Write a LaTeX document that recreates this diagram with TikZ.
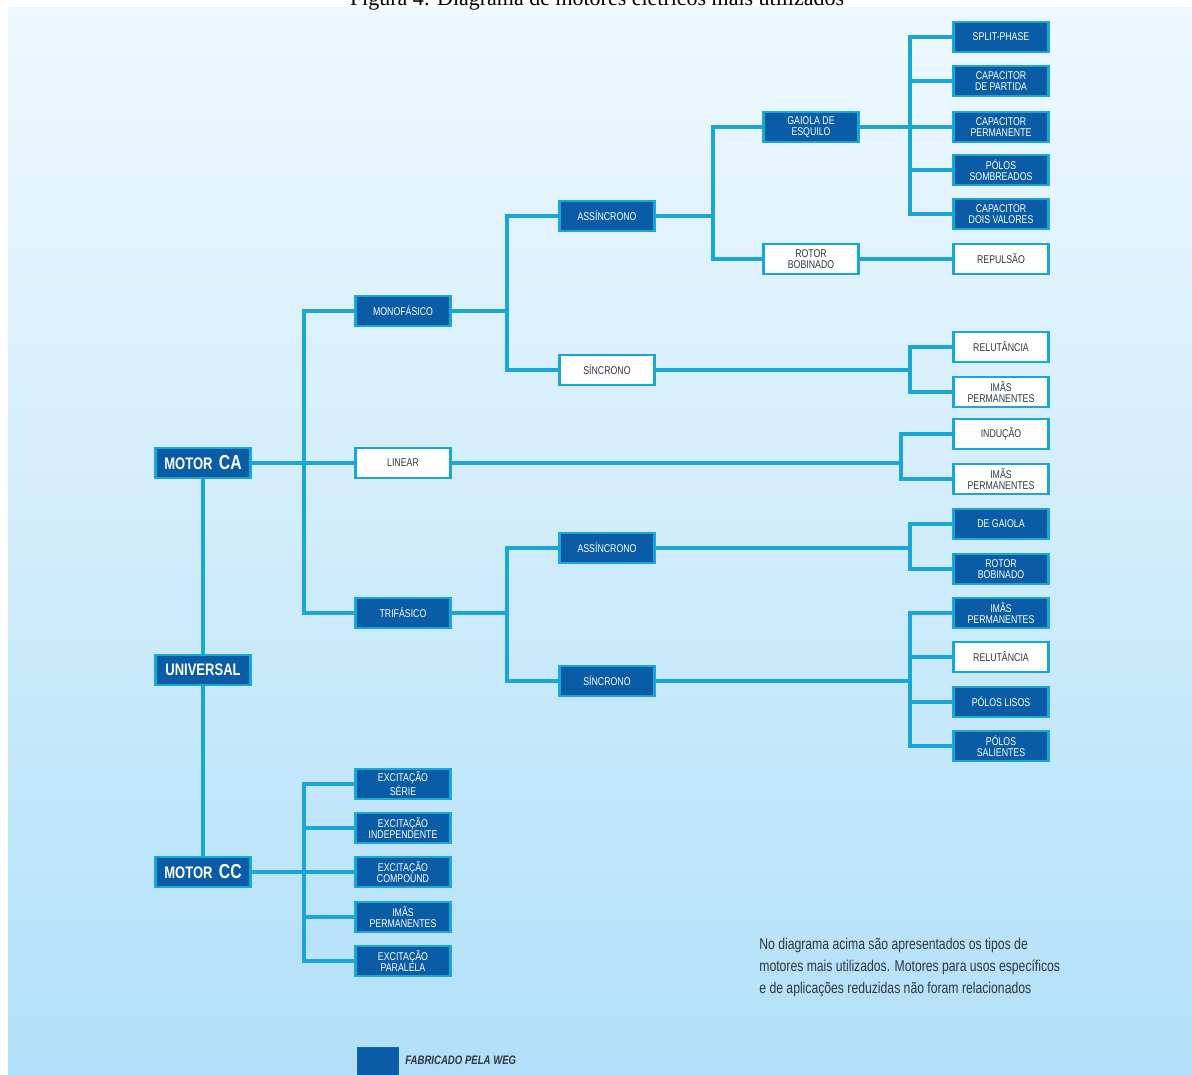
\documentclass[tikz,border=0pt]{standalone}
\usepackage{fontspec}
\setmainfont{Liberation Serif}
\newfontfamily\boxfont[FakeStretch=0.78]{Liberation Sans}
\usetikzlibrary{calc}
\definecolor{weg}{HTML}{0B5CA6}
\definecolor{wegline}{HTML}{1AA7D8}
\definecolor{bgtop}{HTML}{EEF8FE}
\definecolor{bgbot}{HTML}{B2E0F8}
\definecolor{notegray}{HTML}{30373E}

\begin{document}
\begin{tikzpicture}[x=0.02cm, y=-0.02cm,
  box/.style={draw=wegline, line width=1.5pt, minimum width=1.9cm, minimum height=0.6cm,
    inner sep=0pt, align=center, font=\boxfont\fontsize{6.4}{6.6}\selectfont},
  darkbox/.style={box, fill=weg, text=white},
  lightbox/.style={box, fill=white, text=notegray},
  rootbox/.style={darkbox, font=\boxfont\bfseries\fontsize{9.5}{10}\selectfont},
  link/.style={wegline, line width=1.8pt}]
\useasboundingbox (0,0) rectangle (1192,1074);
\shade[top color=bgtop, bottom color=bgbot] (8,8) rectangle (1192,1074);
\node [anchor=base, font=\fontsize{12.5}{13}\selectfont] (caption) at (597,6) {Figura 4: Diagrama de motores elétricos mais utilizados};

% level 0
\node [rootbox] (ca) at (203,463) {MOTOR\, {\fontsize{11.5}{12}\selectfont CA}};
\node [rootbox] (cc) at (203,872) {MOTOR\, {\fontsize{11.5}{12}\selectfont CC}};
\draw [link] (ca) -- (cc);
\node [rootbox] (univ) at (203,670) {UNIVERSAL};

% level 1
\node [darkbox] (mono) at (403,311) {MONOFÁSICO};
\node [lightbox] (linear) at (403,463) {LINEAR};
\node [darkbox] (tri) at (403,613) {TRIFÁSICO};
\node [darkbox] (serie) at (403,784) {EXCITAÇÃO\\SÉRIE};
\node [darkbox] (indep) at (403,828) {EXCITAÇÃO\\INDEPENDENTE};
\node [darkbox] (compound) at (403,872) {EXCITAÇÃO\\COMPOUND};
\node [darkbox] (imacc) at (403,917) {IMÃS\\PERMANENTES};
\node [darkbox] (paralela) at (403,961) {EXCITAÇÃO\\PARALELA};

% level 2
\node [darkbox] (assmono) at (607,216) {ASSÍNCRONO};
\node [lightbox] (sinmono) at (607,370) {SÍNCRONO};
\node [darkbox] (asstri) at (607,548) {ASSÍNCRONO};
\node [darkbox] (sintri) at (607,681) {SÍNCRONO};

% level 3
\node [darkbox] (gaiola) at (811,127) {GAIOLA DE\\ESQUILO};
\node [lightbox] (rotor) at (811,259) {ROTOR\\BOBINADO};

% level 4
\node [darkbox] (split) at (1001,37) {SPLIT-PHASE};
\node [darkbox] (partida) at (1001,81) {CAPACITOR\\DE PARTIDA};
\node [darkbox] (perm) at (1001,127) {CAPACITOR\\PERMANENTE};
\node [darkbox] (sombr) at (1001,170) {PÓLOS\\SOMBREADOS};
\node [darkbox] (dois) at (1001,214) {CAPACITOR\\DOIS VALORES};
\node [lightbox] (repulsao) at (1001,259) {REPULSÃO};
\node [lightbox] (relmono) at (1001,347) {RELUTÂNCIA};
\node [lightbox] (imamono) at (1001,392) {IMÃS\\PERMANENTES};
\node [lightbox] (inducao) at (1001,434) {INDUÇÃO};
\node [lightbox] (imalin) at (1001,479) {IMÃS\\PERMANENTES};
\node [darkbox] (degaiola) at (1001,524) {DE GAIOLA};
\node [darkbox] (rotortri) at (1001,569) {ROTOR\\BOBINADO};
\node [darkbox] (imatri) at (1001,613) {IMÃS\\PERMANENTES};
\node [lightbox] (reltri) at (1001,657) {RELUTÂNCIA};
\node [darkbox] (lisos) at (1001,702) {PÓLOS LISOS};
\node [darkbox] (salientes) at (1001,746) {PÓLOS\\SALIENTES};

% bus points
\coordinate (bca) at (304,463);
\coordinate (bcc) at (304,872);
\coordinate (bmono) at (507,311);
\coordinate (btri) at (507,613);
\coordinate (bass) at (713,216);
\coordinate (bgai) at (910,127);
\coordinate (bsin) at (910,370);
\coordinate (blin) at (901,463);
\coordinate (bat) at (910,548);
\coordinate (bst) at (910,681);

\draw [link] (ca.east) -- (linear.west);
\draw [link] (mono.west) -| (bca) |- (tri.west);
\draw [link] (cc.east) -- (bcc);
\foreach \c in {serie,indep,compound,imacc,paralela} \draw [link] (bcc) |- (\c.west);
\draw [link] (mono.east) -- (bmono);
\draw [link] (assmono.west) -| (bmono) |- (sinmono.west);
\draw [link] (tri.east) -- (btri);
\draw [link] (asstri.west) -| (btri) |- (sintri.west);
\draw [link] (assmono.east) -- (bass);
\draw [link] (gaiola.west) -| (bass) |- (rotor.west);
\draw [link] (gaiola.east) -- (bgai);
\foreach \c in {split,partida,perm,sombr,dois} \draw [link] (bgai) |- (\c.west);
\draw [link] (rotor.east) -- (repulsao.west);
\draw [link] (sinmono.east) -- (bsin);
\foreach \c in {relmono,imamono} \draw [link] (bsin) |- (\c.west);
\draw [link] (linear.east) -- (blin);
\foreach \c in {inducao,imalin} \draw [link] (blin) |- (\c.west);
\draw [link] (asstri.east) -- (bat);
\foreach \c in {degaiola,rotortri} \draw [link] (bat) |- (\c.west);
\draw [link] (sintri.east) -- (bst);
\foreach \c in {imatri,reltri,lisos,salientes} \draw [link] (bst) |- (\c.west);

% note and legend
\node [anchor=north west, align=left, text=notegray, inner sep=0pt,
  font=\boxfont\fontsize{8.9}{12.6}\selectfont] (note) at (759,938)
  {No diagrama acima são apresentados os tipos de\\
   motores mais utilizados. Motores para usos específicos\\
   e de aplicações reduzidas não foram relacionados};
\node [draw=weg!80!wegline, fill=weg, minimum width=0.82cm, minimum height=0.7cm, inner sep=0pt,
  anchor=north west] (legbox) at (357,1047) {};
\node [anchor=west, text=notegray, inner sep=0pt,
  font=\boxfont\bfseries\itshape\fontsize{7}{7.5}\selectfont] (legtext) at (405,1060) {FABRICADO PELA WEG};
\end{tikzpicture}
\end{document}
